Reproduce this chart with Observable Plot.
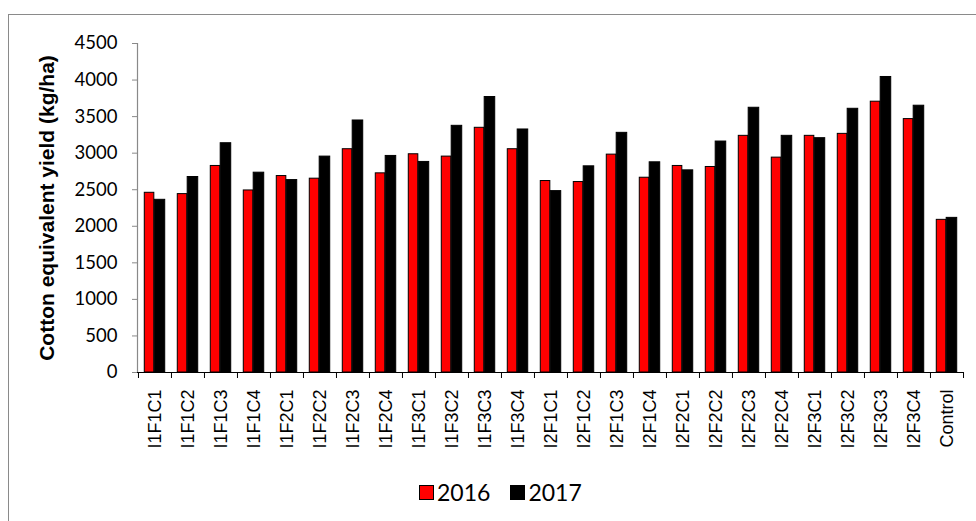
<!DOCTYPE html>
<html>
<head>
<meta charset="utf-8">
<script src="https://cdn.jsdelivr.net/npm/d3@7"></script>
<script src="https://cdn.jsdelivr.net/npm/@observablehq/plot@0.6"></script>
<style>
  html, body { margin: 0; padding: 0; background: #fff; overflow: hidden; }
  #page { position: relative; width: 976px; height: 521px; overflow: hidden; }
  #frame { position: absolute; left: 8px; top: 14px; width: 1200px; height: 800px;
           border-left: 1.5px solid #8a8a8a; border-top: 1.5px solid #8a8a8a; }
  #chart { position: absolute; left: 0; top: 0; }
  #legend { position: absolute; top: 478px; left: 419px; display: flex; align-items: center;
            font-family: Lato, "Open Sans", sans-serif; font-size: 23px; color: #000; }
  .sw { display: inline-block; width: 15px; height: 15px; border: 1px solid #000; box-sizing: border-box; margin-right: 3px; }
  .item { display: flex; align-items: center; margin-right: 20px; }
</style>
</head>
<body>
<div id="page">
  <div id="frame"></div>
  <div id="chart"></div>
  <div id="legend"></div>
</div>
<script>
const categories = ["I1F1C1","I1F1C2","I1F1C3","I1F1C4","I1F2C1","I1F2C2","I1F2C3","I1F2C4",
  "I1F3C1","I1F3C2","I1F3C3","I1F3C4","I2F1C1","I2F1C2","I2F1C3","I2F1C4",
  "I2F2C1","I2F2C2","I2F2C3","I2F2C4","I2F3C1","I2F3C2","I2F3C3","I2F3C4","Control"];
const y2016 = [2458,2440,2825,2490,2687,2651,3054,2724,2985,2953,3347,3054,
  2619,2605,2980,2664,2825,2811,3237,2939,3237,3264,3704,3466,2088];
const y2017 = [2362,2674,3136,2733,2632,2953,3447,2962,2880,3374,3768,3324,
  2481,2820,3278,2875,2765,3159,3621,3237,3205,3607,4042,3649,2115];
const yTicks = [0,500,1000,1500,2000,2500,3000,3500,4000,4500];
const years = ["2016","2017"];
const yearColors = ["#ff0000","#000000"];
const yLabel = "Cotton equivalent yield (kg/ha)";

const rows2016 = categories.map((c, i) => ({cat: c, year: years[0], value: y2016[i]}));
const rows2017 = categories.map((c, i) => ({cat: c, year: years[1], value: y2017[i]}));

const W = 976, H = 470, ML = 137, MR = 13, MT = 43, MB = 98;
const step = (W - ML - MR) / categories.length;

const chart = Plot.plot({
  width: W, height: H,
  marginLeft: ML, marginRight: MR, marginTop: MT, marginBottom: MB,
  style: {background: "transparent", overflow: "visible"},
  x: {type: "band", domain: categories, padding: 0},
  y: {domain: [0, 4500]},
  marks: [
    Plot.barY(rows2016, {x: "cat", y: "value", fill: yearColors[0], stroke: "#000", strokeWidth: 1,
      insetLeft: step * 0.19, insetRight: step * 0.52}),
    Plot.barY(rows2017, {x: "cat", y: "value", fill: yearColors[1], stroke: "#000", strokeWidth: 1,
      insetLeft: step * 0.49, insetRight: step * 0.19}),
    Plot.frame({anchor: "left", stroke: "#898989", strokeWidth: 1.2}),
    Plot.axisY({ticks: yTicks, tickSize: 5, tickPadding: 15, stroke: "#898989",
      tickFormat: d => String(d), fontSize: 18.5, fontFamily: "Lato, 'Open Sans', sans-serif",
      fill: "#000", label: null}),
    Plot.axisY({ticks: [], label: yLabel, labelAnchor: "center", labelArrow: "none", labelOffset: 98,
      fontSize: 21, fontWeight: "bold", fontFamily: "'Liberation Sans', Arial, sans-serif", fill: "#000"}),
    Plot.ruleY([0], {stroke: "#000", strokeWidth: 1.2}),
    Plot.axisX({ticks: categories, tickSize: 6, tickFormat: () => "", dx: -step / 2,
      stroke: "#000", label: null}),
    Plot.axisX({ticks: [categories[categories.length - 1]], tickSize: 6, tickFormat: () => "", dx: step / 2,
      stroke: "#000", label: null}),
    Plot.axisX({tickSize: 0, tickPadding: 17, tickRotate: -90, fontSize: 18,
      fontFamily: "'Liberation Sans', Arial, sans-serif", fill: "#000", label: null})
  ]
});
document.getElementById("chart").appendChild(chart);

const legend = document.getElementById("legend");
years.forEach((y, i) => {
  const item = document.createElement("span");
  item.className = "item";
  const sw = document.createElement("span");
  sw.className = "sw";
  sw.style.background = yearColors[i];
  item.appendChild(sw);
  item.appendChild(document.createTextNode(y));
  legend.appendChild(item);
});
</script>
</body>
</html>
